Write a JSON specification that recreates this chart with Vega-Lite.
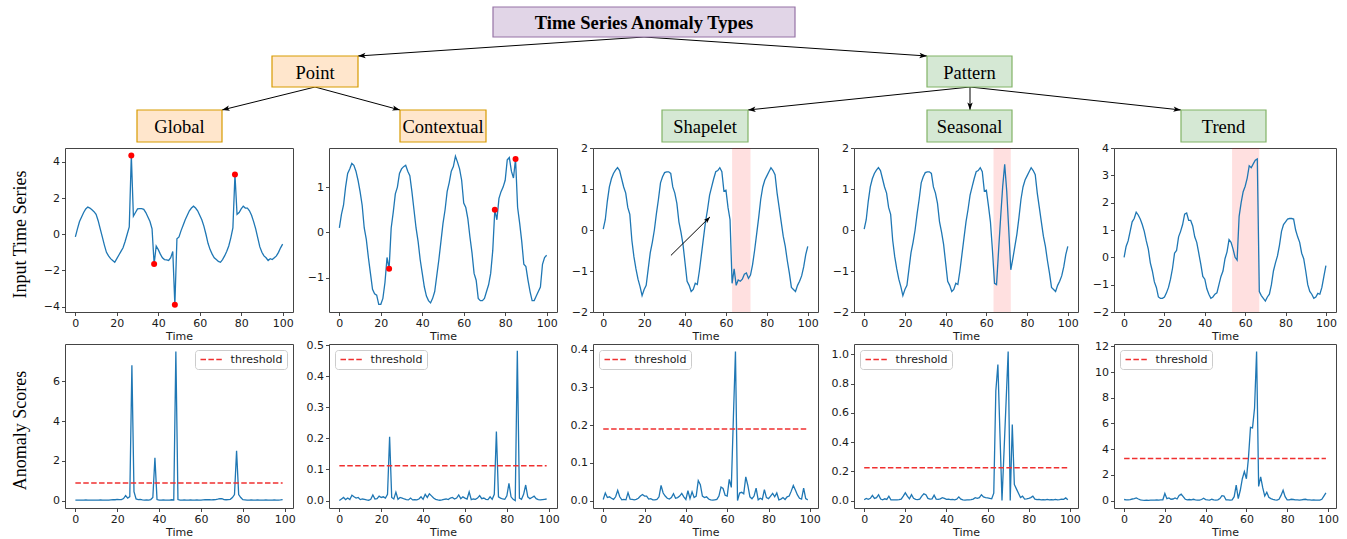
{
"$schema":"https://vega.github.io/schema/vega-lite/v6.json",
"padding":0,
"background":"white",
"spacing":5,
"bounds":"flush",
"config":{
"view":{"stroke":"#444444","strokeWidth":1},
"axis":{"grid":false,"domain":false,"tickColor":"#333333","tickSize":3.5,"tickWidth":0.9,"labelFont":"DejaVu Sans","labelFontSize":11,"labelColor":"#1a1a1a","labelPadding":2,"labelFlush":false,"labelOverlap":false,"titleFont":"DejaVu Sans","titleFontSize":11,"titleFontWeight":"normal","titleColor":"#1a1a1a","titlePadding":2},
"legend":{"offset":6,"padding":4,"fillColor":"white","strokeColor":"#cccccc","cornerRadius":3,"symbolSize":64,"symbolOffset":7.6,"symbolStrokeWidth":1.5,"symbolDash":[5.5,2.4],"labelFont":"DejaVu Sans","labelFontSize":11,"labelColor":"#1a1a1a","labelOffset":13}
},
"datasets":{
"nodes":[{"label":"Time Series Anomaly Types","grp":"root","x1":493,"x2":795,"y1":7,"y2":37},{"label":"Point","grp":"point","x1":272,"x2":358,"y1":56,"y2":87},{"label":"Pattern","grp":"pattern","x1":927,"x2":1012,"y1":56,"y2":87},{"label":"Global","grp":"point","x1":137,"x2":222,"y1":110,"y2":142},{"label":"Contextual","grp":"point","x1":400,"x2":486,"y1":110,"y2":142},{"label":"Shapelet","grp":"pattern","x1":662,"x2":748,"y1":110,"y2":142},{"label":"Seasonal","grp":"pattern","x1":927,"x2":1012,"y1":110,"y2":142},{"label":"Trend","grp":"pattern","x1":1181,"x2":1266,"y1":110,"y2":142}],
"edges":[{"sx":644,"sy":37,"tx":358,"ty":56},{"sx":644,"sy":37,"tx":927,"ty":56},{"sx":315,"sy":87,"tx":222,"ty":110},{"sx":315,"sy":87,"tx":400,"ty":110},{"sx":970,"sy":87,"tx":748,"ty":110},{"sx":970,"sy":87,"tx":970,"ty":110},{"sx":970,"sy":87,"tx":1181,"ty":110}],
"ts_global":[{"t":0,"v":-0.15},{"t":1,"v":0.3},{"t":2,"v":0.7},{"t":3,"v":0.95},{"t":4,"v":1.2},{"t":5,"v":1.4},{"t":6,"v":1.5},{"t":7,"v":1.45},{"t":8,"v":1.35},{"t":9,"v":1.25},{"t":10,"v":1.1},{"t":11,"v":0.75},{"t":12,"v":0.3},{"t":13,"v":-0.15},{"t":14,"v":-0.6},{"t":15,"v":-1.0},{"t":16,"v":-1.2},{"t":17,"v":-1.35},{"t":18,"v":-1.45},{"t":19,"v":-1.55},{"t":20,"v":-1.35},{"t":21,"v":-1.15},{"t":22,"v":-0.95},{"t":23,"v":-0.75},{"t":24,"v":-0.4},{"t":25,"v":0.0},{"t":26,"v":0.4},{"t":27,"v":4.35},{"t":28,"v":1.0},{"t":29,"v":1.2},{"t":30,"v":1.4},{"t":31,"v":1.42},{"t":32,"v":1.42},{"t":33,"v":1.38},{"t":34,"v":1.2},{"t":35,"v":0.95},{"t":36,"v":0.7},{"t":37,"v":0.3},{"t":38,"v":-1.65},{"t":39,"v":-0.65},{"t":40,"v":-0.85},{"t":41,"v":-1.1},{"t":42,"v":-1.3},{"t":43,"v":-1.4},{"t":44,"v":-1.42},{"t":45,"v":-1.45},{"t":46,"v":-1.3},{"t":47,"v":-0.95},{"t":48,"v":-3.9},{"t":49,"v":-0.25},{"t":50,"v":-0.15},{"t":51,"v":0.2},{"t":52,"v":0.5},{"t":53,"v":0.8},{"t":54,"v":1.05},{"t":55,"v":1.3},{"t":56,"v":1.45},{"t":57,"v":1.55},{"t":58,"v":1.45},{"t":59,"v":1.3},{"t":60,"v":1.05},{"t":61,"v":0.8},{"t":62,"v":0.45},{"t":63,"v":0.0},{"t":64,"v":-0.5},{"t":65,"v":-0.85},{"t":66,"v":-1.1},{"t":67,"v":-1.3},{"t":68,"v":-1.4},{"t":69,"v":-1.5},{"t":70,"v":-1.55},{"t":71,"v":-1.4},{"t":72,"v":-1.2},{"t":73,"v":-0.95},{"t":74,"v":-0.65},{"t":75,"v":-0.2},{"t":76,"v":0.35},{"t":77,"v":3.3},{"t":78,"v":1.1},{"t":79,"v":1.2},{"t":80,"v":1.4},{"t":81,"v":1.55},{"t":82,"v":1.45},{"t":83,"v":1.45},{"t":84,"v":1.3},{"t":85,"v":1.05},{"t":86,"v":0.7},{"t":87,"v":0.3},{"t":88,"v":-0.2},{"t":89,"v":-0.7},{"t":90,"v":-1.0},{"t":91,"v":-1.2},{"t":92,"v":-1.3},{"t":93,"v":-1.45},{"t":94,"v":-1.35},{"t":95,"v":-1.4},{"t":96,"v":-1.3},{"t":97,"v":-1.2},{"t":98,"v":-1.0},{"t":99,"v":-0.75},{"t":100,"v":-0.55}],
"pts_global":[{"t":27,"v":4.35},{"t":38,"v":-1.65},{"t":48,"v":-3.9},{"t":77,"v":3.3}],
"ts_context":[{"t":0,"v":0.1},{"t":1,"v":0.4},{"t":2,"v":0.6},{"t":3,"v":1.0},{"t":4,"v":1.3},{"t":5,"v":1.4},{"t":6,"v":1.52},{"t":7,"v":1.48},{"t":8,"v":1.35},{"t":9,"v":1.15},{"t":10,"v":0.9},{"t":11,"v":0.6},{"t":12,"v":0.1},{"t":13,"v":-0.15},{"t":14,"v":-0.55},{"t":15,"v":-0.9},{"t":16,"v":-1.25},{"t":17,"v":-1.35},{"t":18,"v":-1.38},{"t":19,"v":-1.58},{"t":20,"v":-1.58},{"t":21,"v":-1.45},{"t":22,"v":-1.1},{"t":23,"v":-0.55},{"t":24,"v":-0.8},{"t":25,"v":0.1},{"t":26,"v":0.45},{"t":27,"v":0.85},{"t":28,"v":1.0},{"t":29,"v":1.3},{"t":30,"v":1.4},{"t":31,"v":1.45},{"t":32,"v":1.48},{"t":33,"v":1.35},{"t":34,"v":1.25},{"t":35,"v":0.9},{"t":36,"v":0.5},{"t":37,"v":0.1},{"t":38,"v":-0.2},{"t":39,"v":-0.6},{"t":40,"v":-0.9},{"t":41,"v":-1.2},{"t":42,"v":-1.4},{"t":43,"v":-1.5},{"t":44,"v":-1.55},{"t":45,"v":-1.45},{"t":46,"v":-1.3},{"t":47,"v":-0.95},{"t":48,"v":-0.6},{"t":49,"v":-0.2},{"t":50,"v":0.2},{"t":51,"v":0.5},{"t":52,"v":0.9},{"t":53,"v":1.1},{"t":54,"v":1.35},{"t":55,"v":1.45},{"t":56,"v":1.68},{"t":57,"v":1.55},{"t":58,"v":1.4},{"t":59,"v":1.15},{"t":60,"v":0.65},{"t":61,"v":0.55},{"t":62,"v":0.3},{"t":63,"v":-0.1},{"t":64,"v":-0.45},{"t":65,"v":-0.9},{"t":66,"v":-1.05},{"t":67,"v":-1.45},{"t":68,"v":-1.5},{"t":69,"v":-1.5},{"t":70,"v":-1.45},{"t":71,"v":-1.3},{"t":72,"v":-1.15},{"t":73,"v":-0.9},{"t":74,"v":-0.4},{"t":75,"v":0.5},{"t":76,"v":0.28},{"t":77,"v":0.75},{"t":78,"v":0.9},{"t":79,"v":1.0},{"t":80,"v":1.15},{"t":81,"v":1.6},{"t":82,"v":1.65},{"t":83,"v":1.35},{"t":84,"v":1.2},{"t":85,"v":1.62},{"t":86,"v":0.55},{"t":87,"v":0.2},{"t":88,"v":-0.2},{"t":89,"v":-0.7},{"t":90,"v":-0.75},{"t":91,"v":-1.05},{"t":92,"v":-1.3},{"t":93,"v":-1.5},{"t":94,"v":-1.5},{"t":95,"v":-1.4},{"t":96,"v":-1.3},{"t":97,"v":-1.2},{"t":98,"v":-0.7},{"t":99,"v":-0.55},{"t":100,"v":-0.5}],
"pts_context":[{"t":24,"v":-0.8},{"t":75,"v":0.5},{"t":85,"v":1.62}],
"ts_shapelet":[{"t":0,"v":0.02},{"t":1,"v":0.25},{"t":2,"v":0.7},{"t":3,"v":1.05},{"t":4,"v":1.25},{"t":5,"v":1.38},{"t":6,"v":1.46},{"t":7,"v":1.52},{"t":8,"v":1.45},{"t":9,"v":1.25},{"t":10,"v":1.05},{"t":11,"v":0.9},{"t":12,"v":0.55},{"t":13,"v":0.38},{"t":14,"v":-0.25},{"t":15,"v":-0.65},{"t":16,"v":-0.95},{"t":17,"v":-1.2},{"t":18,"v":-1.38},{"t":19,"v":-1.6},{"t":20,"v":-1.45},{"t":21,"v":-1.35},{"t":22,"v":-0.95},{"t":23,"v":-0.55},{"t":24,"v":-0.3},{"t":25,"v":0.0},{"t":26,"v":0.4},{"t":27,"v":0.75},{"t":28,"v":1.15},{"t":29,"v":1.3},{"t":30,"v":1.4},{"t":31,"v":1.42},{"t":32,"v":1.42},{"t":33,"v":1.38},{"t":34,"v":1.05},{"t":35,"v":0.9},{"t":36,"v":0.65},{"t":37,"v":0.2},{"t":38,"v":-0.05},{"t":39,"v":-0.35},{"t":40,"v":-0.8},{"t":41,"v":-1.25},{"t":42,"v":-1.35},{"t":43,"v":-1.5},{"t":44,"v":-1.45},{"t":45,"v":-1.3},{"t":46,"v":-1.33},{"t":47,"v":-1.0},{"t":48,"v":-0.6},{"t":49,"v":-0.2},{"t":50,"v":0.2},{"t":51,"v":0.5},{"t":52,"v":0.85},{"t":53,"v":1.05},{"t":54,"v":1.25},{"t":55,"v":1.42},{"t":56,"v":1.45},{"t":57,"v":1.52},{"t":58,"v":1.42},{"t":59,"v":0.95},{"t":60,"v":0.97},{"t":61,"v":0.55},{"t":62,"v":0.25},{"t":63,"v":-1.3},{"t":64,"v":-0.95},{"t":65,"v":-1.35},{"t":66,"v":-1.22},{"t":67,"v":-1.25},{"t":68,"v":-1.2},{"t":69,"v":-1.08},{"t":70,"v":-1.05},{"t":71,"v":-1.18},{"t":72,"v":-1.1},{"t":73,"v":-0.85},{"t":74,"v":-0.5},{"t":75,"v":-0.1},{"t":76,"v":0.3},{"t":77,"v":0.75},{"t":78,"v":1.05},{"t":79,"v":1.22},{"t":80,"v":1.32},{"t":81,"v":1.42},{"t":82,"v":1.52},{"t":83,"v":1.45},{"t":84,"v":1.35},{"t":85,"v":0.9},{"t":86,"v":0.55},{"t":87,"v":0.2},{"t":88,"v":-0.15},{"t":89,"v":-0.4},{"t":90,"v":-0.75},{"t":91,"v":-1.05},{"t":92,"v":-1.4},{"t":93,"v":-1.45},{"t":94,"v":-1.5},{"t":95,"v":-1.35},{"t":96,"v":-1.25},{"t":97,"v":-1.12},{"t":98,"v":-0.9},{"t":99,"v":-0.6},{"t":100,"v":-0.4}],
"ts_seasonal":[{"t":0,"v":0.02},{"t":1,"v":0.25},{"t":2,"v":0.7},{"t":3,"v":1.05},{"t":4,"v":1.25},{"t":5,"v":1.38},{"t":6,"v":1.46},{"t":7,"v":1.52},{"t":8,"v":1.45},{"t":9,"v":1.25},{"t":10,"v":1.05},{"t":11,"v":0.9},{"t":12,"v":0.55},{"t":13,"v":0.38},{"t":14,"v":-0.25},{"t":15,"v":-0.65},{"t":16,"v":-0.95},{"t":17,"v":-1.2},{"t":18,"v":-1.38},{"t":19,"v":-1.6},{"t":20,"v":-1.45},{"t":21,"v":-1.35},{"t":22,"v":-0.95},{"t":23,"v":-0.55},{"t":24,"v":-0.3},{"t":25,"v":0.0},{"t":26,"v":0.4},{"t":27,"v":0.75},{"t":28,"v":1.15},{"t":29,"v":1.3},{"t":30,"v":1.4},{"t":31,"v":1.42},{"t":32,"v":1.42},{"t":33,"v":1.38},{"t":34,"v":1.05},{"t":35,"v":0.9},{"t":36,"v":0.65},{"t":37,"v":0.2},{"t":38,"v":-0.05},{"t":39,"v":-0.35},{"t":40,"v":-0.8},{"t":41,"v":-1.25},{"t":42,"v":-1.35},{"t":43,"v":-1.5},{"t":44,"v":-1.45},{"t":45,"v":-1.3},{"t":46,"v":-1.33},{"t":47,"v":-1.0},{"t":48,"v":-0.6},{"t":49,"v":-0.2},{"t":50,"v":0.2},{"t":51,"v":0.5},{"t":52,"v":0.85},{"t":53,"v":1.05},{"t":54,"v":1.25},{"t":55,"v":1.42},{"t":56,"v":1.45},{"t":57,"v":1.52},{"t":58,"v":1.42},{"t":59,"v":0.95},{"t":60,"v":0.97},{"t":61,"v":0.6},{"t":62,"v":0.2},{"t":63,"v":-0.5},{"t":64,"v":-1.3},{"t":65,"v":-1.33},{"t":66,"v":-0.5},{"t":67,"v":0.3},{"t":68,"v":1.05},{"t":69,"v":1.6},{"t":70,"v":0.95},{"t":71,"v":0.0},{"t":72,"v":-0.97},{"t":73,"v":-0.7},{"t":74,"v":-0.4},{"t":75,"v":-0.1},{"t":76,"v":0.3},{"t":77,"v":0.75},{"t":78,"v":1.05},{"t":79,"v":1.22},{"t":80,"v":1.32},{"t":81,"v":1.42},{"t":82,"v":1.52},{"t":83,"v":1.45},{"t":84,"v":1.35},{"t":85,"v":0.9},{"t":86,"v":0.55},{"t":87,"v":0.2},{"t":88,"v":-0.15},{"t":89,"v":-0.4},{"t":90,"v":-0.75},{"t":91,"v":-1.05},{"t":92,"v":-1.4},{"t":93,"v":-1.45},{"t":94,"v":-1.5},{"t":95,"v":-1.35},{"t":96,"v":-1.25},{"t":97,"v":-1.12},{"t":98,"v":-0.9},{"t":99,"v":-0.6},{"t":100,"v":-0.4}],
"ts_trend":[{"t":0,"v":0.0},{"t":1,"v":0.4},{"t":2,"v":0.6},{"t":3,"v":0.95},{"t":4,"v":1.3},{"t":5,"v":1.42},{"t":6,"v":1.65},{"t":7,"v":1.55},{"t":8,"v":1.4},{"t":9,"v":1.2},{"t":10,"v":0.95},{"t":11,"v":0.6},{"t":12,"v":0.3},{"t":13,"v":-0.2},{"t":14,"v":-0.5},{"t":15,"v":-0.9},{"t":16,"v":-1.1},{"t":17,"v":-1.45},{"t":18,"v":-1.5},{"t":19,"v":-1.5},{"t":20,"v":-1.45},{"t":21,"v":-1.3},{"t":22,"v":-1.1},{"t":23,"v":-0.8},{"t":24,"v":-0.4},{"t":25,"v":0.15},{"t":26,"v":0.25},{"t":27,"v":0.75},{"t":28,"v":0.95},{"t":29,"v":1.2},{"t":30,"v":1.58},{"t":31,"v":1.62},{"t":32,"v":1.35},{"t":33,"v":1.35},{"t":34,"v":1.15},{"t":35,"v":0.75},{"t":36,"v":0.55},{"t":37,"v":0.15},{"t":38,"v":-0.25},{"t":39,"v":-0.7},{"t":40,"v":-0.8},{"t":41,"v":-1.15},{"t":42,"v":-1.35},{"t":43,"v":-1.5},{"t":44,"v":-1.45},{"t":45,"v":-1.35},{"t":46,"v":-1.3},{"t":47,"v":-1.0},{"t":48,"v":-0.7},{"t":49,"v":-0.5},{"t":50,"v":-0.05},{"t":51,"v":0.2},{"t":52,"v":0.65},{"t":53,"v":0.55},{"t":54,"v":0.3},{"t":55,"v":0.0},{"t":56,"v":-0.1},{"t":57,"v":1.5},{"t":58,"v":2.0},{"t":59,"v":2.4},{"t":60,"v":2.6},{"t":61,"v":2.9},{"t":62,"v":3.35},{"t":63,"v":3.28},{"t":64,"v":3.42},{"t":65,"v":3.55},{"t":66,"v":3.6},{"t":67,"v":-1.25},{"t":68,"v":-1.4},{"t":69,"v":-1.5},{"t":70,"v":-1.6},{"t":71,"v":-1.45},{"t":72,"v":-1.35},{"t":73,"v":-1.0},{"t":74,"v":-0.5},{"t":75,"v":-0.2},{"t":76,"v":0.05},{"t":77,"v":0.45},{"t":78,"v":0.95},{"t":79,"v":1.2},{"t":80,"v":1.3},{"t":81,"v":1.4},{"t":82,"v":1.42},{"t":83,"v":1.42},{"t":84,"v":1.4},{"t":85,"v":1.0},{"t":86,"v":0.75},{"t":87,"v":0.55},{"t":88,"v":0.15},{"t":89,"v":-0.05},{"t":90,"v":-0.5},{"t":91,"v":-1.0},{"t":92,"v":-1.25},{"t":93,"v":-1.35},{"t":94,"v":-1.5},{"t":95,"v":-1.45},{"t":96,"v":-1.32},{"t":97,"v":-1.35},{"t":98,"v":-1.1},{"t":99,"v":-0.7},{"t":100,"v":-0.3}],
"sc_global":[{"t":0,"v":0.02},{"t":1,"v":0.02},{"t":2,"v":0.02},{"t":3,"v":0.02},{"t":4,"v":0.02},{"t":5,"v":0.03},{"t":6,"v":0.02},{"t":7,"v":0.02},{"t":8,"v":0.02},{"t":9,"v":0.02},{"t":10,"v":0.02},{"t":11,"v":0.02},{"t":12,"v":0.03},{"t":13,"v":0.02},{"t":14,"v":0.02},{"t":15,"v":0.02},{"t":16,"v":0.02},{"t":17,"v":0.03},{"t":18,"v":0.04},{"t":19,"v":0.04},{"t":20,"v":0.06},{"t":21,"v":0.05},{"t":22,"v":0.05},{"t":23,"v":0.1},{"t":24,"v":0.25},{"t":25,"v":0.12},{"t":26,"v":0.2},{"t":27,"v":6.8},{"t":28,"v":0.45},{"t":29,"v":0.08},{"t":30,"v":0.05},{"t":31,"v":0.06},{"t":32,"v":0.03},{"t":33,"v":0.02},{"t":34,"v":0.03},{"t":35,"v":0.02},{"t":36,"v":0.05},{"t":37,"v":0.15},{"t":38,"v":2.15},{"t":39,"v":0.05},{"t":40,"v":0.02},{"t":41,"v":0.02},{"t":42,"v":0.03},{"t":43,"v":0.02},{"t":44,"v":0.02},{"t":45,"v":0.02},{"t":46,"v":0.04},{"t":47,"v":0.03},{"t":48,"v":7.5},{"t":49,"v":0.05},{"t":50,"v":0.02},{"t":51,"v":0.02},{"t":52,"v":0.03},{"t":53,"v":0.02},{"t":54,"v":0.02},{"t":55,"v":0.03},{"t":56,"v":0.02},{"t":57,"v":0.02},{"t":58,"v":0.03},{"t":59,"v":0.02},{"t":60,"v":0.02},{"t":61,"v":0.03},{"t":62,"v":0.04},{"t":63,"v":0.05},{"t":64,"v":0.04},{"t":65,"v":0.03},{"t":66,"v":0.04},{"t":67,"v":0.05},{"t":68,"v":0.07},{"t":69,"v":0.1},{"t":70,"v":0.09},{"t":71,"v":0.05},{"t":72,"v":0.04},{"t":73,"v":0.05},{"t":74,"v":0.06},{"t":75,"v":0.15},{"t":76,"v":0.3},{"t":77,"v":2.5},{"t":78,"v":0.3},{"t":79,"v":0.15},{"t":80,"v":0.04},{"t":81,"v":0.03},{"t":82,"v":0.02},{"t":83,"v":0.02},{"t":84,"v":0.03},{"t":85,"v":0.02},{"t":86,"v":0.02},{"t":87,"v":0.03},{"t":88,"v":0.02},{"t":89,"v":0.02},{"t":90,"v":0.02},{"t":91,"v":0.03},{"t":92,"v":0.02},{"t":93,"v":0.02},{"t":94,"v":0.02},{"t":95,"v":0.03},{"t":96,"v":0.02},{"t":97,"v":0.02},{"t":98,"v":0.03},{"t":99,"v":0.05}],
"sc_context":[{"t":0,"v":0.0},{"t":1,"v":0.005},{"t":2,"v":0.01},{"t":3,"v":0.003},{"t":4,"v":0.008},{"t":5,"v":0.003},{"t":6,"v":0.017},{"t":7,"v":0.012},{"t":8,"v":0.008},{"t":9,"v":0.01},{"t":10,"v":0.003},{"t":11,"v":0.005},{"t":12,"v":0.004},{"t":13,"v":0.002},{"t":14,"v":0.001},{"t":15,"v":0.004},{"t":16,"v":0.018},{"t":17,"v":0.005},{"t":18,"v":0.006},{"t":19,"v":0.014},{"t":20,"v":0.01},{"t":21,"v":0.012},{"t":22,"v":0.008},{"t":23,"v":0.02},{"t":24,"v":0.205},{"t":25,"v":0.01},{"t":26,"v":0.005},{"t":27,"v":0.027},{"t":28,"v":0.004},{"t":29,"v":0.01},{"t":30,"v":0.008},{"t":31,"v":0.005},{"t":32,"v":0.003},{"t":33,"v":0.002},{"t":34,"v":0.008},{"t":35,"v":0.002},{"t":36,"v":0.003},{"t":37,"v":0.002},{"t":38,"v":0.005},{"t":39,"v":0.012},{"t":40,"v":0.004},{"t":41,"v":0.02},{"t":42,"v":0.01},{"t":43,"v":0.022},{"t":44,"v":0.015},{"t":45,"v":0.008},{"t":46,"v":0.004},{"t":47,"v":0.002},{"t":48,"v":0.001},{"t":49,"v":0.002},{"t":50,"v":0.004},{"t":51,"v":0.005},{"t":52,"v":0.003},{"t":53,"v":0.008},{"t":54,"v":0.01},{"t":55,"v":0.005},{"t":56,"v":0.008},{"t":57,"v":0.018},{"t":58,"v":0.006},{"t":59,"v":0.012},{"t":60,"v":0.008},{"t":61,"v":0.005},{"t":62,"v":0.028},{"t":63,"v":0.003},{"t":64,"v":0.005},{"t":65,"v":0.004},{"t":66,"v":0.008},{"t":67,"v":0.016},{"t":68,"v":0.006},{"t":69,"v":0.008},{"t":70,"v":0.004},{"t":71,"v":0.003},{"t":72,"v":0.012},{"t":73,"v":0.004},{"t":74,"v":0.02},{"t":75,"v":0.222},{"t":76,"v":0.012},{"t":77,"v":0.008},{"t":78,"v":0.005},{"t":79,"v":0.004},{"t":80,"v":0.015},{"t":81,"v":0.055},{"t":82,"v":0.012},{"t":83,"v":0.004},{"t":84,"v":0.0},{"t":85,"v":0.482},{"t":86,"v":0.008},{"t":87,"v":0.004},{"t":88,"v":0.02},{"t":89,"v":0.05},{"t":90,"v":0.012},{"t":91,"v":0.006},{"t":92,"v":0.01},{"t":93,"v":0.014},{"t":94,"v":0.006},{"t":95,"v":0.003},{"t":96,"v":0.002},{"t":97,"v":0.003},{"t":98,"v":0.004},{"t":99,"v":0.005}],
"sc_shapelet":[{"t":0,"v":0.003},{"t":1,"v":0.02},{"t":2,"v":0.008},{"t":3,"v":0.01},{"t":4,"v":0.006},{"t":5,"v":0.003},{"t":6,"v":0.01},{"t":7,"v":0.027},{"t":8,"v":0.01},{"t":9,"v":0.002},{"t":10,"v":0.003},{"t":11,"v":0.002},{"t":12,"v":0.021},{"t":13,"v":0.004},{"t":14,"v":0.003},{"t":15,"v":0.002},{"t":16,"v":0.003},{"t":17,"v":0.006},{"t":18,"v":0.012},{"t":19,"v":0.016},{"t":20,"v":0.012},{"t":21,"v":0.012},{"t":22,"v":0.004},{"t":23,"v":0.005},{"t":24,"v":0.002},{"t":25,"v":0.002},{"t":26,"v":0.003},{"t":27,"v":0.01},{"t":28,"v":0.04},{"t":29,"v":0.02},{"t":30,"v":0.012},{"t":31,"v":0.006},{"t":32,"v":0.004},{"t":33,"v":0.008},{"t":34,"v":0.018},{"t":35,"v":0.006},{"t":36,"v":0.008},{"t":37,"v":0.012},{"t":38,"v":0.019},{"t":39,"v":0.01},{"t":40,"v":0.003},{"t":41,"v":0.026},{"t":42,"v":0.005},{"t":43,"v":0.023},{"t":44,"v":0.008},{"t":45,"v":0.012},{"t":46,"v":0.053},{"t":47,"v":0.042},{"t":48,"v":0.012},{"t":49,"v":0.008},{"t":50,"v":0.01},{"t":51,"v":0.004},{"t":52,"v":0.002},{"t":53,"v":0.001},{"t":54,"v":0.002},{"t":55,"v":0.003},{"t":56,"v":0.012},{"t":57,"v":0.036},{"t":58,"v":0.032},{"t":59,"v":0.014},{"t":60,"v":0.012},{"t":61,"v":0.056},{"t":62,"v":0.035},{"t":63,"v":0.22},{"t":64,"v":0.395},{"t":65,"v":0.0},{"t":66,"v":0.02},{"t":67,"v":0.022},{"t":68,"v":0.018},{"t":69,"v":0.063},{"t":70,"v":0.04},{"t":71,"v":0.01},{"t":72,"v":0.005},{"t":73,"v":0.012},{"t":74,"v":0.033},{"t":75,"v":0.002},{"t":76,"v":0.006},{"t":77,"v":0.003},{"t":78,"v":0.029},{"t":79,"v":0.008},{"t":80,"v":0.005},{"t":81,"v":0.012},{"t":82,"v":0.019},{"t":83,"v":0.01},{"t":84,"v":0.02},{"t":85,"v":0.002},{"t":86,"v":0.004},{"t":87,"v":0.008},{"t":88,"v":0.003},{"t":89,"v":0.01},{"t":90,"v":0.012},{"t":91,"v":0.025},{"t":92,"v":0.04},{"t":93,"v":0.028},{"t":94,"v":0.015},{"t":95,"v":0.006},{"t":96,"v":0.004},{"t":97,"v":0.033},{"t":98,"v":0.005},{"t":99,"v":0.002}],
"sc_seasonal":[{"t":0,"v":0.005},{"t":1,"v":0.014},{"t":2,"v":0.008},{"t":3,"v":0.015},{"t":4,"v":0.035},{"t":5,"v":0.015},{"t":6,"v":0.02},{"t":7,"v":0.04},{"t":8,"v":0.01},{"t":9,"v":0.005},{"t":10,"v":0.012},{"t":11,"v":0.008},{"t":12,"v":0.03},{"t":13,"v":0.005},{"t":14,"v":0.004},{"t":15,"v":0.005},{"t":16,"v":0.004},{"t":17,"v":0.006},{"t":18,"v":0.01},{"t":19,"v":0.03},{"t":20,"v":0.053},{"t":21,"v":0.03},{"t":22,"v":0.012},{"t":23,"v":0.04},{"t":24,"v":0.015},{"t":25,"v":0.008},{"t":26,"v":0.006},{"t":27,"v":0.01},{"t":28,"v":0.03},{"t":29,"v":0.046},{"t":30,"v":0.04},{"t":31,"v":0.015},{"t":32,"v":0.01},{"t":33,"v":0.012},{"t":34,"v":0.037},{"t":35,"v":0.01},{"t":36,"v":0.008},{"t":37,"v":0.012},{"t":38,"v":0.02},{"t":39,"v":0.015},{"t":40,"v":0.008},{"t":41,"v":0.01},{"t":42,"v":0.006},{"t":43,"v":0.008},{"t":44,"v":0.005},{"t":45,"v":0.01},{"t":46,"v":0.025},{"t":47,"v":0.01},{"t":48,"v":0.004},{"t":49,"v":0.003},{"t":50,"v":0.004},{"t":51,"v":0.005},{"t":52,"v":0.006},{"t":53,"v":0.01},{"t":54,"v":0.02},{"t":55,"v":0.015},{"t":56,"v":0.02},{"t":57,"v":0.04},{"t":58,"v":0.025},{"t":59,"v":0.02},{"t":60,"v":0.018},{"t":61,"v":0.015},{"t":62,"v":0.012},{"t":63,"v":0.05},{"t":64,"v":0.75},{"t":65,"v":0.93},{"t":66,"v":0.46},{"t":67,"v":0.0},{"t":68,"v":0.34},{"t":69,"v":0.68},{"t":70,"v":1.02},{"t":71,"v":0.0},{"t":72,"v":0.52},{"t":73,"v":0.11},{"t":74,"v":0.08},{"t":75,"v":0.05},{"t":76,"v":0.02},{"t":77,"v":0.03},{"t":78,"v":0.01},{"t":79,"v":0.012},{"t":80,"v":0.015},{"t":81,"v":0.02},{"t":82,"v":0.03},{"t":83,"v":0.01},{"t":84,"v":0.006},{"t":85,"v":0.008},{"t":86,"v":0.005},{"t":87,"v":0.006},{"t":88,"v":0.004},{"t":89,"v":0.008},{"t":90,"v":0.005},{"t":91,"v":0.006},{"t":92,"v":0.004},{"t":93,"v":0.008},{"t":94,"v":0.005},{"t":95,"v":0.006},{"t":96,"v":0.01},{"t":97,"v":0.008},{"t":98,"v":0.018},{"t":99,"v":0.006}],
"sc_trend":[{"t":0,"v":0.08},{"t":1,"v":0.06},{"t":2,"v":0.05},{"t":3,"v":0.08},{"t":4,"v":0.12},{"t":5,"v":0.15},{"t":6,"v":0.2},{"t":7,"v":0.12},{"t":8,"v":0.05},{"t":9,"v":0.03},{"t":10,"v":0.02},{"t":11,"v":0.03},{"t":12,"v":0.02},{"t":13,"v":0.03},{"t":14,"v":0.03},{"t":15,"v":0.04},{"t":16,"v":0.05},{"t":17,"v":0.04},{"t":18,"v":0.05},{"t":19,"v":0.06},{"t":20,"v":0.55},{"t":21,"v":0.15},{"t":22,"v":0.2},{"t":23,"v":0.1},{"t":24,"v":0.12},{"t":25,"v":0.2},{"t":26,"v":0.12},{"t":27,"v":0.4},{"t":28,"v":0.5},{"t":29,"v":0.3},{"t":30,"v":0.1},{"t":31,"v":0.05},{"t":32,"v":0.08},{"t":33,"v":0.06},{"t":34,"v":0.1},{"t":35,"v":0.06},{"t":36,"v":0.04},{"t":37,"v":0.03},{"t":38,"v":0.08},{"t":39,"v":0.18},{"t":40,"v":0.08},{"t":41,"v":0.05},{"t":42,"v":0.04},{"t":43,"v":0.1},{"t":44,"v":0.05},{"t":45,"v":0.03},{"t":46,"v":0.05},{"t":47,"v":0.15},{"t":48,"v":0.38},{"t":49,"v":0.35},{"t":50,"v":0.05},{"t":51,"v":0.05},{"t":52,"v":0.04},{"t":53,"v":0.05},{"t":54,"v":0.3},{"t":55,"v":1.2},{"t":56,"v":0.15},{"t":57,"v":0.8},{"t":58,"v":1.7},{"t":59,"v":2.25},{"t":60,"v":1.7},{"t":61,"v":3.3},{"t":62,"v":5.7},{"t":63,"v":5.65},{"t":64,"v":7.2},{"t":65,"v":11.6},{"t":66,"v":1.1},{"t":67,"v":1.85},{"t":68,"v":1.0},{"t":69,"v":0.35},{"t":70,"v":0.65},{"t":71,"v":0.25},{"t":72,"v":0.15},{"t":73,"v":0.1},{"t":74,"v":0.06},{"t":75,"v":0.04},{"t":76,"v":0.1},{"t":77,"v":0.4},{"t":78,"v":0.8},{"t":79,"v":0.3},{"t":80,"v":0.05},{"t":81,"v":0.06},{"t":82,"v":0.1},{"t":83,"v":0.08},{"t":84,"v":0.06},{"t":85,"v":0.05},{"t":86,"v":0.04},{"t":87,"v":0.06},{"t":88,"v":0.08},{"t":89,"v":0.1},{"t":90,"v":0.06},{"t":91,"v":0.05},{"t":92,"v":0.04},{"t":93,"v":0.05},{"t":94,"v":0.04},{"t":95,"v":0.03},{"t":96,"v":0.04},{"t":97,"v":0.1},{"t":98,"v":0.35},{"t":99,"v":0.6}]
},
"vconcat":[
{
"width":1347,"height":143,
"view":{"stroke":null},
"layer":[
{"data":{"name":"edges"},"mark":{"type":"rule","color":"black","strokeWidth":1},
"encoding":{"x":{"field":"sx","type":"quantitative","scale":{"domain":[0,1347],"nice":false,"zero":false},"axis":null},"y":{"field":"sy","type":"quantitative","scale":{"domain":[0,143],"nice":false,"zero":false,"reverse":true},"axis":null},"x2":{"field":"tx"},"y2":{"field":"ty"}}},
{"data":{"name":"edges"},"transform":[{"calculate":"atan2(datum.tx - datum.sx, datum.sy - datum.ty) * 180 / PI","as":"ang"}],
"mark":{"type":"point","shape":"M0,0 L0.6,1.7 L0,1.3 L-0.6,1.7 Z","filled":true,"color":"black","opacity":1,"size":80,"strokeWidth":0},
"encoding":{"x":{"field":"tx","type":"quantitative"},"y":{"field":"ty","type":"quantitative"},"angle":{"field":"ang","type":"quantitative","scale":null}}},
{"data":{"name":"nodes"},"mark":{"type":"rect","strokeWidth":1.2},
"encoding":{"x":{"field":"x1","type":"quantitative"},"x2":{"field":"x2"},"y":{"field":"y1","type":"quantitative"},"y2":{"field":"y2"},
"fill":{"field":"grp","type":"nominal","scale":{"domain":["root","point","pattern"],"range":["#e1d5e7","#ffe6cc","#d5e8d4"]},"legend":null},
"stroke":{"field":"grp","type":"nominal","scale":{"domain":["root","point","pattern"],"range":["#9673a6","#d79b00","#82b366"]},"legend":null}}},
{"data":{"name":"nodes"},"transform":[{"filter":"datum.grp !== 'root'"},{"calculate":"(datum.x1 + datum.x2) / 2","as":"cx"},{"calculate":"(datum.y1 + datum.y2) / 2","as":"cy"}],
"mark":{"type":"text","font":"Liberation Serif","fontSize":18.5,"color":"black","align":"center","baseline":"middle","dy":1},
"encoding":{"x":{"field":"cx","type":"quantitative"},"y":{"field":"cy","type":"quantitative"},"text":{"field":"label"}}},
{"data":{"name":"nodes"},"transform":[{"filter":"datum.grp === 'root'"},{"calculate":"(datum.x1 + datum.x2) / 2","as":"cx"},{"calculate":"(datum.y1 + datum.y2) / 2","as":"cy"}],
"mark":{"type":"text","font":"Liberation Serif","fontSize":18.5,"fontWeight":"bold","color":"black","align":"center","baseline":"middle","dy":1},
"encoding":{"x":{"field":"cx","type":"quantitative"},"y":{"field":"cy","type":"quantitative"},"text":{"field":"label"}}}
]
},
{
"columns":6,
"spacing":{"row":32,"column":36},
"bounds":"flush",
"align":"each",
"resolve":{"scale":{"color":"independent"},"legend":{"color":"independent"}},
"concat":[
{"width":29,"height":164,"view":{"stroke":null},"data":{"values":[]},"mark":"point"},
{"width":228,"height":164,
"layer":[
{"data":{"name":"ts_global"},"mark":{"type":"line","color":"#1f77b4","strokeWidth":1.3},
"encoding":{"x":{"field":"t","type":"quantitative","scale":{"domain":[-5,105],"nice":false,"zero":false},"axis":{"values":[0,20,40,60,80,100],"tickCount":20,"format":"d","title":"Time"}},
"y":{"field":"v","type":"quantitative","scale":{"domain":[-4.3,4.77],"nice":false,"zero":false},"axis":{"values":[-4,-2,0,2,4],"tickCount":20,"format":"d","title":"Input Time Series","titleFont":"Liberation Serif","titleFontSize":18,"titleColor":"black","titleX":-40,"titleY":86,"titleBaseline":"alphabetic","titleAngle":270,"titleAlign":"center"}}}},
{"data":{"name":"pts_global"},"mark":{"type":"point","filled":true,"color":"#ff0000","opacity":1,"size":36},
"encoding":{"x":{"field":"t","type":"quantitative"},"y":{"field":"v","type":"quantitative"}}}
]},
{"width":228,"height":164,
"layer":[
{"data":{"name":"ts_context"},"mark":{"type":"line","color":"#1f77b4","strokeWidth":1.3},
"encoding":{"x":{"field":"t","type":"quantitative","scale":{"domain":[-5,105],"nice":false,"zero":false},"axis":{"values":[0,20,40,60,80,100],"tickCount":20,"format":"d","title":"Time"}},
"y":{"field":"v","type":"quantitative","scale":{"domain":[-1.75,1.86],"nice":false,"zero":false},"axis":{"values":[-1,0,1],"tickCount":20,"format":"d","title":null}}}},
{"data":{"name":"pts_context"},"mark":{"type":"point","filled":true,"color":"#ff0000","opacity":1,"size":36},
"encoding":{"x":{"field":"t","type":"quantitative"},"y":{"field":"v","type":"quantitative"}}}
]},
{"width":225,"height":164,
"layer":[
{"data":{"values":[{"start":63,"end":72}]},"mark":{"type":"rect","color":"#ff0000","opacity":0.12},
"encoding":{"x":{"field":"start","type":"quantitative"},"x2":{"field":"end"}}},
{"data":{"name":"ts_shapelet"},"mark":{"type":"line","color":"#1f77b4","strokeWidth":1.3},
"encoding":{"x":{"field":"t","type":"quantitative","scale":{"domain":[-5,105],"nice":false,"zero":false},"axis":{"values":[0,20,40,60,80,100],"tickCount":20,"format":"d","title":"Time"}},
"y":{"field":"v","type":"quantitative","scale":{"domain":[-2,2],"nice":false,"zero":false},"axis":{"values":[-2,-1,0,1,2],"tickCount":20,"format":"d","title":null}}}},
{"data":{"values":[{"x0":33.1,"y0":-0.62,"x1":52.2,"y1":0.32}]},"mark":{"type":"rule","color":"black","strokeWidth":1},
"encoding":{"x":{"field":"x0","type":"quantitative"},"y":{"field":"y0","type":"quantitative"},"x2":{"field":"x1"},"y2":{"field":"y1"}}},
{"data":{"values":[{"x0":33.1,"y0":-0.62,"x1":52.2,"y1":0.32}]},"mark":{"type":"point","shape":"M0,0 L0.6,1.7 L0,1.3 L-0.6,1.7 Z","filled":true,"color":"black","opacity":1,"size":60,"angle":45,"strokeWidth":0},
"encoding":{"x":{"field":"x1","type":"quantitative"},"y":{"field":"y1","type":"quantitative"}}}
]},
{"width":224,"height":164,
"layer":[
{"data":{"values":[{"start":63.5,"end":72}]},"mark":{"type":"rect","color":"#ff0000","opacity":0.12},
"encoding":{"x":{"field":"start","type":"quantitative"},"x2":{"field":"end"}}},
{"data":{"name":"ts_seasonal"},"mark":{"type":"line","color":"#1f77b4","strokeWidth":1.3},
"encoding":{"x":{"field":"t","type":"quantitative","scale":{"domain":[-5,105],"nice":false,"zero":false},"axis":{"values":[0,20,40,60,80,100],"tickCount":20,"format":"d","title":"Time"}},
"y":{"field":"v","type":"quantitative","scale":{"domain":[-2,2],"nice":false,"zero":false},"axis":{"values":[-2,-1,0,1,2],"tickCount":20,"format":"d","title":null}}}}
]},
{"width":222,"height":164,
"layer":[
{"data":{"values":[{"start":53.5,"end":67}]},"mark":{"type":"rect","color":"#ff0000","opacity":0.12},
"encoding":{"x":{"field":"start","type":"quantitative"},"x2":{"field":"end"}}},
{"data":{"name":"ts_trend"},"mark":{"type":"line","color":"#1f77b4","strokeWidth":1.3},
"encoding":{"x":{"field":"t","type":"quantitative","scale":{"domain":[-5,105],"nice":false,"zero":false},"axis":{"values":[0,20,40,60,80,100],"tickCount":20,"format":"d","title":"Time"}},
"y":{"field":"v","type":"quantitative","scale":{"domain":[-2,4],"nice":false,"zero":false},"axis":{"values":[-2,-1,0,1,2,3,4],"tickCount":20,"format":"d","title":null}}}}
]},
{"width":29,"height":164,"view":{"stroke":null},"data":{"values":[]},"mark":"point"},
{"width":228,"height":164,
"layer":[
{"data":{"name":"sc_global"},"mark":{"type":"line","color":"#1f77b4","strokeWidth":1.3},
"encoding":{"x":{"field":"t","type":"quantitative","scale":{"domain":[-4.95,103.95],"nice":false,"zero":false},"axis":{"values":[0,20,40,60,80,100],"tickCount":20,"format":"d","title":"Time"}},
"y":{"field":"v","type":"quantitative","scale":{"domain":[-0.375,7.875],"nice":false,"zero":false},"axis":{"values":[0,2,4,6],"tickCount":20,"format":"d","title":"Anomaly Scores","titleFont":"Liberation Serif","titleFontSize":18,"titleColor":"black","titleX":-40,"titleY":86,"titleBaseline":"alphabetic","titleAngle":270,"titleAlign":"center"}}}},
{"data":{"values":[{"start":0,"end":99,"thr":0.88}]},"mark":{"type":"rule","strokeDash":[5.5,2.4],"strokeWidth":1.5},
"encoding":{"x":{"field":"start","type":"quantitative"},"x2":{"field":"end"},"y":{"field":"thr","type":"quantitative"},
"color":{"datum":"threshold","type":"nominal","scale":{"range":["#f03030"]},"legend":{"title":null,"orient":"top-right","symbolType":"M-2.9,0L2.9,0","labelFontSize":11,"labelOffset":13}}}}
]},
{"width":228,"height":164,
"layer":[
{"data":{"name":"sc_context"},"mark":{"type":"line","color":"#1f77b4","strokeWidth":1.3},
"encoding":{"x":{"field":"t","type":"quantitative","scale":{"domain":[-4.95,103.95],"nice":false,"zero":false},"axis":{"values":[0,20,40,60,80,100],"tickCount":20,"format":"d","title":"Time"}},
"y":{"field":"v","type":"quantitative","scale":{"domain":[-0.024,0.504],"nice":false,"zero":false},"axis":{"values":[0,0.1,0.2,0.3,0.4,0.5],"tickCount":20,"format":".1f","title":null}}}},
{"data":{"values":[{"start":0,"end":99,"thr":0.112}]},"mark":{"type":"rule","strokeDash":[5.5,2.4],"strokeWidth":1.5},
"encoding":{"x":{"field":"start","type":"quantitative"},"x2":{"field":"end"},"y":{"field":"thr","type":"quantitative"},
"color":{"datum":"threshold","type":"nominal","scale":{"range":["#f03030"]},"legend":{"title":null,"orient":"top-left","symbolType":"M-2.9,0L2.9,0","labelFontSize":11,"labelOffset":13}}}}
]},
{"width":225,"height":164,
"layer":[
{"data":{"name":"sc_shapelet"},"mark":{"type":"line","color":"#1f77b4","strokeWidth":1.3},
"encoding":{"x":{"field":"t","type":"quantitative","scale":{"domain":[-4.95,103.95],"nice":false,"zero":false},"axis":{"values":[0,20,40,60,80,100],"tickCount":20,"format":"d","title":"Time"}},
"y":{"field":"v","type":"quantitative","scale":{"domain":[-0.0197,0.415],"nice":false,"zero":false},"axis":{"values":[0,0.1,0.2,0.3,0.4],"tickCount":20,"format":".1f","title":null}}}},
{"data":{"values":[{"start":0,"end":99,"thr":0.19}]},"mark":{"type":"rule","strokeDash":[5.5,2.4],"strokeWidth":1.5},
"encoding":{"x":{"field":"start","type":"quantitative"},"x2":{"field":"end"},"y":{"field":"thr","type":"quantitative"},
"color":{"datum":"threshold","type":"nominal","scale":{"range":["#f03030"]},"legend":{"title":null,"orient":"top-left","symbolType":"M-2.9,0L2.9,0","labelFontSize":11,"labelOffset":13}}}}
]},
{"width":224,"height":164,
"layer":[
{"data":{"name":"sc_seasonal"},"mark":{"type":"line","color":"#1f77b4","strokeWidth":1.3},
"encoding":{"x":{"field":"t","type":"quantitative","scale":{"domain":[-4.95,103.95],"nice":false,"zero":false},"axis":{"values":[0,20,40,60,80,100],"tickCount":20,"format":"d","title":"Time"}},
"y":{"field":"v","type":"quantitative","scale":{"domain":[-0.051,1.071],"nice":false,"zero":false},"axis":{"values":[0,0.2,0.4,0.6,0.8,1.0],"tickCount":20,"format":".1f","title":null}}}},
{"data":{"values":[{"start":0,"end":99,"thr":0.225}]},"mark":{"type":"rule","strokeDash":[5.5,2.4],"strokeWidth":1.5},
"encoding":{"x":{"field":"start","type":"quantitative"},"x2":{"field":"end"},"y":{"field":"thr","type":"quantitative"},
"color":{"datum":"threshold","type":"nominal","scale":{"range":["#f03030"]},"legend":{"title":null,"orient":"top-left","symbolType":"M-2.9,0L2.9,0","labelFontSize":11,"labelOffset":13}}}}
]},
{"width":222,"height":164,
"layer":[
{"data":{"name":"sc_trend"},"mark":{"type":"line","color":"#1f77b4","strokeWidth":1.3},
"encoding":{"x":{"field":"t","type":"quantitative","scale":{"domain":[-4.95,103.95],"nice":false,"zero":false},"axis":{"values":[0,20,40,60,80,100],"tickCount":20,"format":"d","title":"Time"}},
"y":{"field":"v","type":"quantitative","scale":{"domain":[-0.58,12.18],"nice":false,"zero":false},"axis":{"values":[0,2,4,6,8,10,12],"tickCount":20,"format":"d","title":null}}}},
{"data":{"values":[{"start":0,"end":99,"thr":3.28}]},"mark":{"type":"rule","strokeDash":[5.5,2.4],"strokeWidth":1.5},
"encoding":{"x":{"field":"start","type":"quantitative"},"x2":{"field":"end"},"y":{"field":"thr","type":"quantitative"},
"color":{"datum":"threshold","type":"nominal","scale":{"range":["#f03030"]},"legend":{"title":null,"orient":"top-left","symbolType":"M-2.9,0L2.9,0","labelFontSize":11,"labelOffset":13}}}}
]}
]
}
]
}
